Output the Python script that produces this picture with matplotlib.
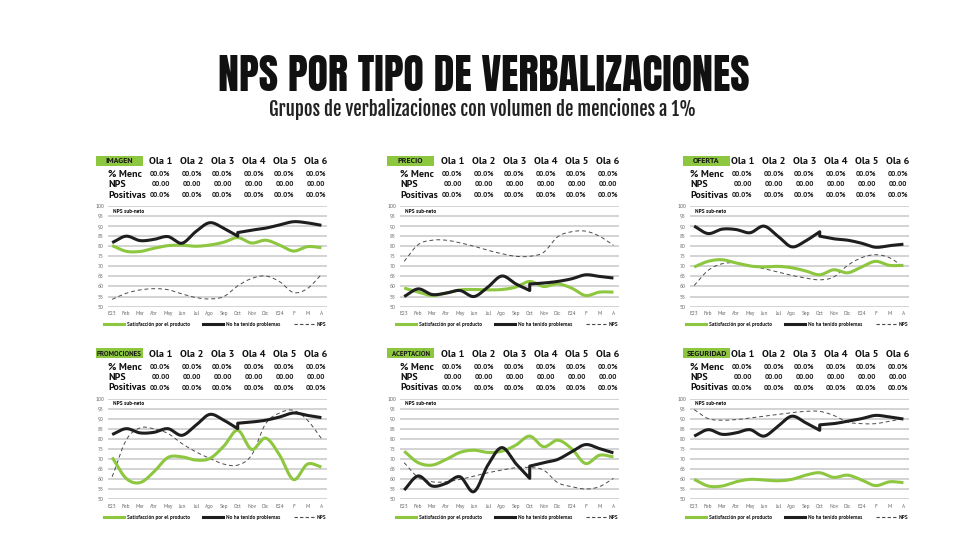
import numpy as np
import matplotlib
matplotlib.use("Agg")
import matplotlib.pyplot as plt
from matplotlib.patches import Rectangle
from matplotlib.lines import Line2D

# Datos
meses = ["E23", "Feb", "Mar", "Abr", "May", "Jun", "Jul", "Ago", "Sep", "Oct",
         "Nov", "Dic", "E24", "F", "M", "A"]
olas = ["Ola 1", "Ola 2", "Ola 3", "Ola 4", "Ola 5", "Ola 6"]
filas = ["% Menc", "NPS", "Positivas"]
valores_fila = ["00.0%", "00.00", "00.0%"]
series_nombres = ["Satisfacción por el producto", "No ha tenido problemas", "NPS"]

# Satisfacción por el producto (verde)
imagen_sat = [80.3, 77.5, 77.4, 79.0, 80.3, 80.5, 80.0, 80.6, 82.0, 84.3, 81.6, 83.0, 80.6, 77.6, 79.8, 79.3]
precio_sat = [59.2, 57.2, 55.5, 56.7, 58.3, 58.5, 58.3, 58.5, 59.7, 62.5, 60.0, 61.3, 59.2, 55.5, 57.2, 57.2]
oferta_sat = [69.7, 72.5, 73.3, 71.7, 70.2, 69.7, 70.0, 69.3, 67.7, 65.8, 68.3, 66.8, 69.7, 72.5, 70.5, 70.5]
promo_sat = [70.8, 60.4, 58.3, 63.7, 70.8, 71.1, 69.5, 70.3, 76.4, 84.3, 74.8, 80.4, 72.0, 59.8, 67.5, 66.0]
acept_sat = [73.9, 68.2, 67.0, 69.8, 73.3, 74.4, 73.3, 73.9, 76.9, 81.4, 76.1, 79.4, 75.2, 67.8, 71.9, 71.1]
segur_sat = [59.9, 56.6, 56.6, 58.7, 59.9, 59.6, 59.2, 59.9, 62.0, 63.2, 60.9, 62.0, 59.6, 56.8, 58.7, 58.3]

# No ha tenido problemas (negro): tramo E23-Oct y tramo Oct-A
imagen_prob1 = [81.8, 85.0, 82.8, 83.4, 84.8, 81.5, 87.3, 91.7, 88.9, 85.0]
imagen_prob2 = [86.8, 88.0, 89.0, 90.6, 92.2, 91.6, 90.4]
precio_prob1 = [55.0, 58.8, 56.0, 56.7, 58.0, 55.0, 59.7, 65.2, 61.3, 58.0]
precio_prob2 = [61.2, 61.7, 62.5, 63.8, 65.8, 65.0, 64.2]
oferta_prob1 = [90.0, 86.3, 88.5, 88.3, 86.7, 90.0, 85.0, 79.7, 82.7, 87.2]
oferta_prob2 = [85.0, 83.7, 83.0, 81.5, 79.5, 80.3, 81.0]
promo_prob1 = [82.2, 85.1, 83.0, 83.3, 85.1, 81.8, 86.8, 92.2, 89.3, 85.1]
promo_prob2 = [87.8, 88.4, 89.3, 90.9, 92.9, 91.7, 90.6]
acept_prob1 = [54.6, 61.6, 56.6, 57.9, 61.2, 53.8, 67.0, 75.7, 67.8, 60.4]
acept_prob2 = [66.5, 68.2, 69.8, 73.6, 77.2, 75.2, 73.1]
segur_prob1 = [81.4, 84.6, 82.3, 83.0, 84.6, 81.4, 86.3, 91.3, 88.0, 84.3]
segur_prob2 = [87.0, 87.6, 88.8, 90.1, 91.7, 90.9, 89.9]

# NPS (discontinua)
imagen_nps = [53.6, 56.6, 58.3, 58.9, 58.4, 56.3, 54.5, 53.8, 55.0, 60.3, 64.0, 65.2, 62.4, 57.0, 59.0, 66.0]
precio_nps = [72.5, 80.8, 83.0, 83.0, 81.7, 80.0, 78.0, 76.3, 75.0, 75.0, 77.0, 84.7, 87.2, 87.5, 85.0, 80.5]
oferta_nps = [60.5, 68.0, 71.3, 71.7, 70.5, 68.8, 67.2, 65.5, 64.2, 63.3, 64.7, 70.5, 74.3, 75.8, 74.3, 69.7]
promo_nps = [61.2, 79.4, 85.5, 85.0, 82.7, 77.7, 73.6, 70.3, 67.5, 67.0, 72.0, 87.6, 92.9, 94.2, 89.3, 80.2]
acept_nps = [68.2, 60.9, 58.7, 58.7, 59.9, 61.5, 63.2, 64.5, 65.7, 65.8, 64.5, 58.3, 56.3, 55.1, 56.3, 60.4]
segur_nps = [94.6, 90.1, 89.3, 89.6, 90.4, 91.3, 92.2, 93.1, 93.7, 93.7, 91.7, 88.4, 87.6, 87.6, 88.8, 90.1]

titulos = ["IMAGEN", "PRECIO", "OFERTA", "PROMOCIONES", "ACEPTACIÓN", "SEGURIDAD"]
paneles = [
    (imagen_sat, imagen_prob1, imagen_prob2, imagen_nps),
    (precio_sat, precio_prob1, precio_prob2, precio_nps),
    (oferta_sat, oferta_prob1, oferta_prob2, oferta_nps),
    (promo_sat, promo_prob1, promo_prob2, promo_nps),
    (acept_sat, acept_prob1, acept_prob2, acept_nps),
    (segur_sat, segur_prob1, segur_prob2, segur_nps),
]

VERDE = "#8dc63f"
NEGRO = "#1e1e1e"
GRIS = "#4a4a4a"
TIT = ["Anton", "DejaVu Sans"]
SUB = ["Fjalla One", "DejaVu Sans"]
SANS = ["PT Sans", "DejaVu Sans"]

W, H = 969, 545


def fx(x):
    return x / W


def fy(y):
    return 1 - y / H


def suavizar(x, y, n=24):
    # curva tipo Catmull-Rom (como las líneas suavizadas de Excel)
    x = np.asarray(x, float)
    y = np.asarray(y, float)
    X = np.concatenate([[2 * x[0] - x[1]], x, [2 * x[-1] - x[-2]]])
    Y = np.concatenate([[2 * y[0] - y[1]], y, [2 * y[-1] - y[-2]]])
    t = np.linspace(0, 1, n, endpoint=False)
    xs, ys = [], []
    for i in range(1, len(X) - 2):
        for P, out in ((X, xs), (Y, ys)):
            p0, p1, p2, p3 = P[i - 1], P[i], P[i + 1], P[i + 2]
            out.append(0.5 * (2 * p1 + (-p0 + p2) * t
                              + (2 * p0 - 5 * p1 + 4 * p2 - p3) * t ** 2
                              + (-p0 + 3 * p1 - 3 * p2 + p3) * t ** 3))
    xs.append([x[-1]])
    ys.append([y[-1]])
    return np.concatenate(xs), np.concatenate(ys)


fig = plt.figure(figsize=(W / 100, H / 100), dpi=100)
fig.patch.set_facecolor("white")

fig.text(fx(484), fy(91), "NPS POR TIPO DE VERBALIZACIONES", ha="center", va="baseline",
         fontsize=30.2, family=TIT, color="#111111")
fig.text(fx(483), fy(116), "Grupos de verbalizaciones con volumen de menciones a 1%",
         ha="center", va="baseline", fontsize=13.5, family=SUB, color="#222222")

col_x0 = [108, 400, 690]
caja_x0 = [96, 387, 683]
fila_y = [0, 192.7]

xi = np.arange(len(meses))

for k, (titulo, (sat, p1, p2, nps)) in enumerate(zip(titulos, paneles)):
    c, r = k % 3, k // 3
    x0 = col_x0[c]
    dy = fila_y[r]

    # tabla
    hy = 160.7 + dy
    fig.patches.append(Rectangle((fx(caja_x0[c]), fy(hy + 5)), 47 / W, 10 / H,
                                 transform=fig.transFigure, facecolor=VERDE,
                                 edgecolor="none"))
    fig.text(fx(caja_x0[c] + 23.5), fy(hy + 2.4), titulo, ha="center", va="baseline",
             fontsize=5.8 if len(titulo) < 10 else 5.0, fontweight="bold",
             family=SANS, color="#1a1a1a")
    for j, ola in enumerate(olas):
        cx = x0 + 52.5 + 31 * j
        fig.text(fx(cx), fy(hy + 3.5), ola, ha="center", va="baseline",
                 fontsize=7.4, fontweight="bold", family=SANS, color="#111111")
    for i, (fila, val) in enumerate(zip(filas, valores_fila)):
        ry = 174 + 10.2 * i + dy
        fig.text(fx(x0 + 0.5), fy(ry + 3.2), fila, ha="left", va="baseline",
                 fontsize=7.2, fontweight="bold", family=SANS, color="#111111")
        for j in range(len(olas)):
            cx = x0 + 52.5 + 31 * j
            fig.text(fx(cx), fy(ry + 2.3), val, ha="center", va="baseline",
                     fontsize=5.4, fontweight="bold", family=SANS, color="#222222")

    # gráfico
    top = 206 + dy
    ax = fig.add_axes([fx(x0), fy(top + 100.6), 219 / W, 100.6 / H])
    ax.set_xlim(-0.3, 15.4)
    ax.set_ylim(50, 100)
    for s in ax.spines.values():
        s.set_visible(False)
    ax.set_yticks(np.arange(50, 101, 5))
    ax.set_xticks(xi)
    ax.set_xticklabels(meses, family=SANS)
    for lab in ax.get_yticklabels():
        lab.set_family(SANS)
    ax.grid(axis="y", color="#c8c8c8", lw=1.1)
    ax.set_axisbelow(True)
    ax.tick_params(length=0, labelsize=3.9, colors="#666666")
    ax.tick_params(axis="x", pad=3.5)
    ax.tick_params(axis="y", pad=3.0)
    ax.patch.set_alpha(0)

    xs, ys = suavizar(xi, sat)
    ax.plot(xs, ys, color=VERDE, lw=2.2, solid_capstyle="butt", zorder=3)
    # la línea negra tiene un salto en Oct: dos tramos unidos en una sola línea
    xa, ya = suavizar(xi[:len(p1)], p1)
    xb, yb = suavizar(xi[len(p1) - 1:], p2)
    ax.plot(np.concatenate([xa, xb]), np.concatenate([ya, yb]), color=NEGRO, lw=2.2,
            solid_capstyle="butt", solid_joinstyle="round", zorder=4)
    xs, ys = suavizar(xi, nps)
    ax.plot(xs, ys, color=GRIS, lw=0.7, dashes=(4, 3), zorder=2)

    ax.text(0.024, 0.95, "NPS sub-neto", transform=ax.transAxes, ha="left", va="center",
            fontsize=3.9, fontweight="bold", family=SANS, color="#111111")

    handles = [Line2D([], [], color=VERDE, lw=2.2),
               Line2D([], [], color=NEGRO, lw=2.2),
               Line2D([], [], color=GRIS, lw=0.8, dashes=(3, 2))]
    leg = ax.legend(handles, series_nombres, loc="center", bbox_to_anchor=(0.49, -0.18),
                    ncol=3, frameon=False, handlelength=3.7, handletextpad=0.6,
                    columnspacing=2.4, prop={"size": 3.9, "weight": "bold", "family": SANS})
    for t in leg.get_texts():
        t.set_color("#222222")

fig.savefig("out.png", dpi=100, facecolor="white")
